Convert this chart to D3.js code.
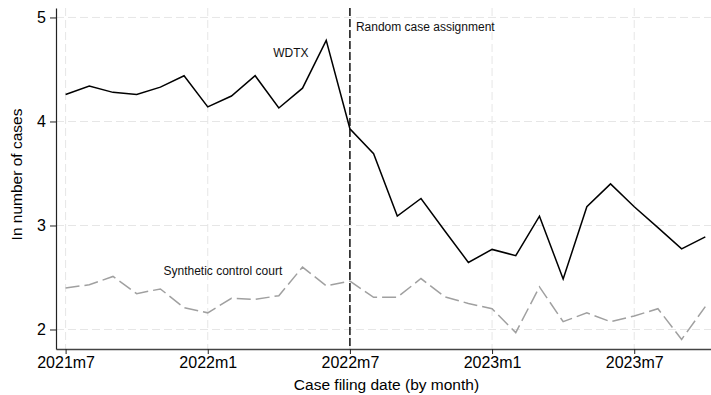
<!DOCTYPE html>
<html>
<head>
<meta charset="utf-8">
<script src="https://cdn.jsdelivr.net/npm/d3@7"></script>
<style>
	body { margin: 0; background: #fff; }
	svg { display: block; font-family: Arial, "Liberation Sans", Helvetica, sans-serif; }
	.tick text { font-size: 16px; fill: #000; }
	.axis-label { font-size: 15.5px; fill: #000; }
	.note { font-size: 12px; fill: #111; }
</style>
</head>
<body>
<div id="chart"></div>
<script>
// months on the x axis
const months = [
	'2021m7', '2021m8', '2021m9', '2021m10', '2021m11', '2021m12',
	'2022m1', '2022m2', '2022m3', '2022m4', '2022m5', '2022m6',
	'2022m7', '2022m8', '2022m9', '2022m10', '2022m11', '2022m12',
	'2023m1', '2023m2', '2023m3', '2023m4', '2023m5', '2023m6',
	'2023m7', '2023m8', '2023m9', '2023m10'
];

// ln(number of cases), WDTX
const wdtx = [
	4.26, 4.34, 4.28, 4.26, 4.33, 4.44, 4.14, 4.245, 4.44, 4.13, 4.32, 4.78,
	3.93, 3.69, 3.09, 3.26, 2.95, 2.645, 2.77, 2.71, 3.09, 2.485, 3.18, 3.40,
	3.18, 2.98, 2.775, 2.89
];

// ln(number of cases), synthetic control court
const synthetic = [
	2.40, 2.43, 2.51, 2.345, 2.39, 2.21, 2.16, 2.30, 2.29, 2.325, 2.60, 2.42,
	2.465, 2.31, 2.31, 2.49, 2.315, 2.25, 2.20, 1.97, 2.41, 2.075, 2.16, 2.075,
	2.13, 2.20, 1.905, 2.22
];

const xTickLabels = ['2021m7', '2022m1', '2022m7', '2023m1', '2023m7'];
const yTicks = [2, 3, 4, 5];
const treatmentMonth = '2022m7';

const width = 711, height = 395;
const margin = { top: 8, right: 0, bottom: 46, left: 56 };

const svg = d3.select('#chart').append('svg')
	.attr('width', width)
	.attr('height', height);

// x scale on month index, with padding like the Stata plot region
const xScale = d3.scaleLinear()
	.domain([-0.405, 27.24])
	.range([margin.left, width - margin.right]);
const yScale = d3.scaleLinear()
	.domain([1.8125, 5.091])
	.range([height - margin.bottom, margin.top]);

const xIdx = label => months.indexOf(label);

// gridlines
const grid = svg.append('g').attr('class', 'grid');
grid.selectAll('.hgrid')
	.data(yTicks)
	.join('line')
	.attr('class', 'hgrid')
	.attr('x1', margin.left).attr('x2', width - margin.right)
	.attr('y1', d => yScale(d)).attr('y2', d => yScale(d))
	.attr('stroke', '#e6e6e6')
	.attr('stroke-width', 1)
	.attr('stroke-dasharray', '8,4');
grid.selectAll('.vgrid')
	.data(xTickLabels)
	.join('line')
	.attr('class', 'vgrid')
	.attr('x1', d => xScale(xIdx(d))).attr('x2', d => xScale(xIdx(d)))
	.attr('y1', margin.top).attr('y2', height - margin.bottom)
	.attr('stroke', '#e6e6e6')
	.attr('stroke-width', 1)
	.attr('stroke-dasharray', '8,4');

// axes
const xAxis = d3.axisBottom(xScale)
	.tickValues(xTickLabels.map(xIdx))
	.tickFormat(i => months[i])
	.tickSize(5)
	.tickSizeOuter(0)
	.tickPadding(3);
const yAxis = d3.axisLeft(yScale)
	.tickValues(yTicks)
	.tickFormat(d3.format('d'))
	.tickSize(6)
	.tickSizeOuter(0)
	.tickPadding(4);

const xAxisG = svg.append('g')
	.attr('class', 'axis x-axis')
	.attr('transform', `translate(0, ${height - margin.bottom})`)
	.call(xAxis);
xAxisG.select('.domain').attr('stroke', '#444').attr('stroke-width', 1.3);
xAxisG.selectAll('.tick line').attr('stroke', '#222');

const yAxisG = svg.append('g')
	.attr('class', 'axis y-axis')
	.attr('transform', `translate(${margin.left}, 0)`)
	.call(yAxis);
yAxisG.select('.domain').attr('stroke', '#222').attr('stroke-width', 1.2);
yAxisG.selectAll('.tick line').attr('stroke', '#222');

// axis titles
svg.append('text')
	.attr('class', 'axis-label')
	.attr('text-anchor', 'middle')
	.attr('x', (xScale(xIdx('2021m7')) + xScale(xIdx('2023m10'))) / 2 + 1)
	.attr('y', 390)
	.text('Case filing date (by month)');

svg.append('text')
	.attr('class', 'axis-label')
	.attr('text-anchor', 'middle')
	.attr('transform', 'rotate(-90)')
	.attr('x', -(margin.top + height - margin.bottom) / 2 + 4)
	.attr('y', 22)
	.text('In number of cases');

// treatment line
svg.append('line')
	.attr('x1', xScale(xIdx(treatmentMonth)))
	.attr('x2', xScale(xIdx(treatmentMonth)))
	.attr('y1', margin.top)
	.attr('y2', height - margin.bottom)
	.attr('stroke', '#000')
	.attr('stroke-width', 1.4)
	.attr('stroke-dasharray', '8,3');

// series lines
const line = d3.line()
	.x((d, i) => xScale(i))
	.y(d => yScale(d));

svg.append('path')
	.datum(synthetic)
	.attr('fill', 'none')
	.attr('stroke', '#a0a0a0')
	.attr('stroke-width', 1.5)
	.attr('stroke-dasharray', '14,5')
	.attr('d', line);

svg.append('path')
	.datum(wdtx)
	.attr('fill', 'none')
	.attr('stroke', '#000')
	.attr('stroke-width', 1.5)
	.attr('stroke-linejoin', 'miter')
	.attr('d', line);

// annotations
svg.append('text')
	.attr('class', 'note')
	.attr('x', xScale(xIdx(treatmentMonth)) + 6)
	.attr('y', 31)
	.text('Random case assignment');

svg.append('text')
	.attr('class', 'note')
	.attr('text-anchor', 'end')
	.attr('x', 308.5)
	.attr('y', 56.5)
	.text('WDTX');

svg.append('text')
	.attr('class', 'note')
	.attr('x', 163.5)
	.attr('y', 275)
	.text('Synthetic control court');
</script>
</body>
</html>
